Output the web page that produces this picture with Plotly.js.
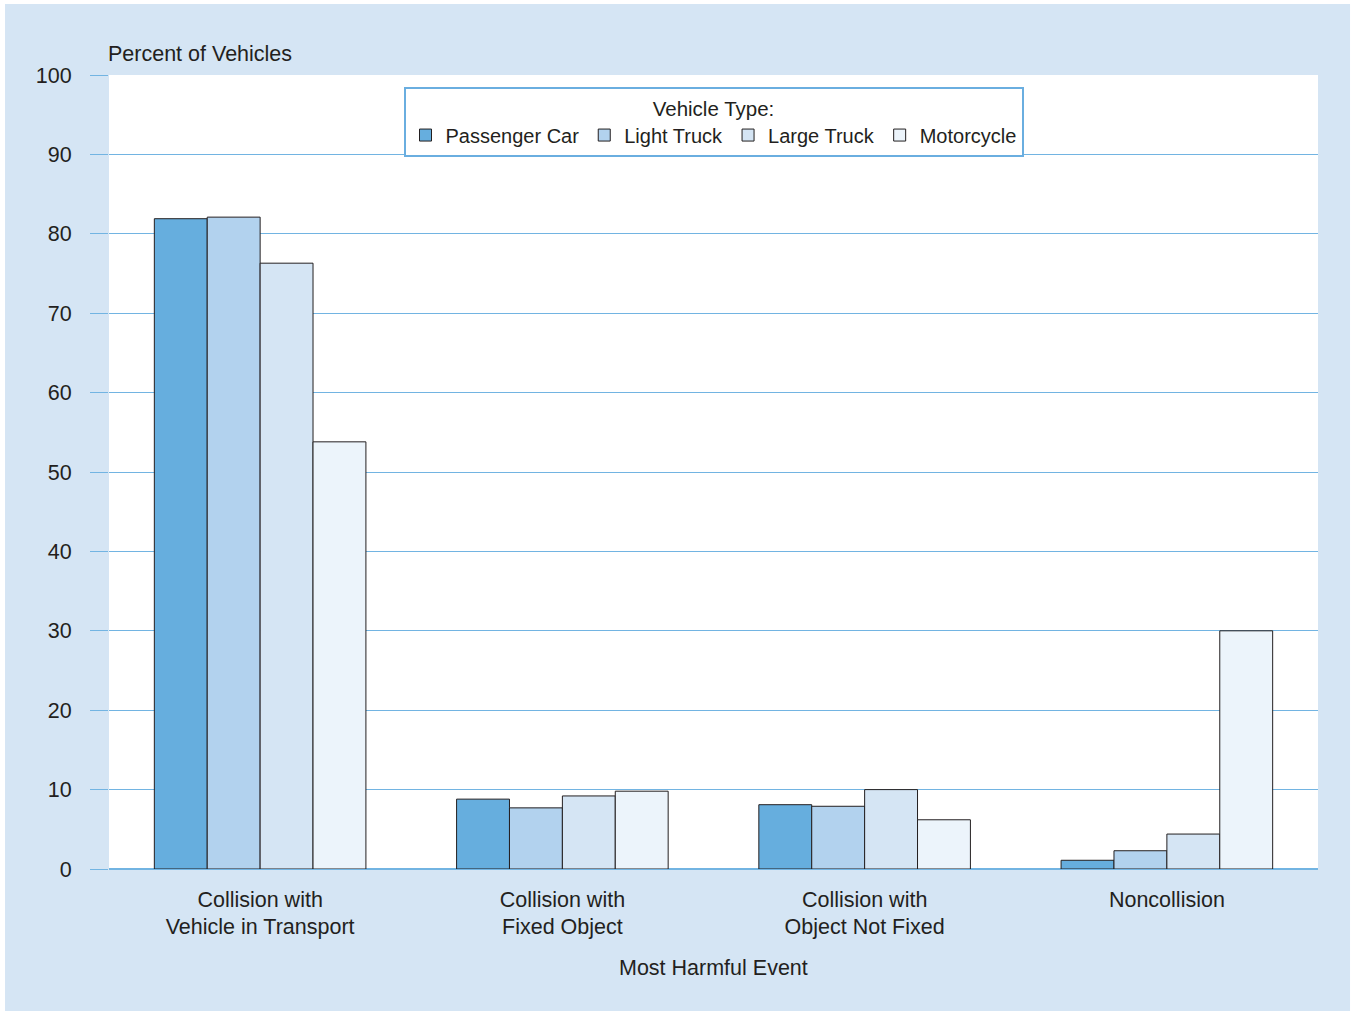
<!DOCTYPE html>
<html>
<head>
<meta charset="utf-8">
<script src="https://cdn.plot.ly/plotly-3.0.1.min.js"></script>
<style>html,body{margin:0;padding:0;background:#fff;}#chart{width:1351px;height:1012px;}</style>
</head>
<body>
<div id="chart"></div>
<script>
const categories = ["Collision with<br>Vehicle in Transport", "Collision with<br>Fixed Object", "Collision with<br>Object Not Fixed", "Noncollision"];
const seriesNames = ["Passenger Car", "Light Truck", "Large Truck", "Motorcycle"];
const passengerCar = [81.9, 8.8, 8.1, 1.1];
const lightTruck = [82.1, 7.7, 7.9, 2.3];
const largeTruck = [76.3, 9.2, 10.0, 4.4];
const motorcycle = [53.8, 9.8, 6.2, 30.0];
const yTicks = [0, 10, 20, 30, 40, 50, 60, 70, 80, 90, 100];

const colors = ["#66aede", "#b2d2ee", "#d5e5f4", "#ecf4fb"];
const values = [passengerCar, lightTruck, largeTruck, motorcycle];
const font = "Liberation Sans, Arial, sans-serif";
const textColor = "#231f20";
const gridColor = "#72b4e2";
const fs = 21.5;

const traces = values.map((v, i) => ({
  type: "bar",
  name: seriesNames[i],
  x: categories,
  y: v,
  marker: {color: colors[i], line: {color: "#231f20", width: 1}},
  hoverinfo: "y+name"
}));

const layout = {
  width: 1351, height: 1012,
  margin: {l: 109, r: 33, t: 75, b: 143},
  paper_bgcolor: "#ffffff",
  plot_bgcolor: "rgba(0,0,0,0)",
  barmode: "group",
  bargap: 0.3,
  bargroupgap: 0,
  font: {family: font, size: fs, color: textColor},
  xaxis: {
    showgrid: false, showline: false, zeroline: false, ticks: "",
    ticklabelstandoff: 15,
    tickfont: {family: font, size: fs, color: textColor},
    fixedrange: true
  },
  yaxis: {
    range: [0, 100], tickvals: yTicks, ticktext: yTicks.map(String),
    showgrid: true, gridcolor: gridColor, gridwidth: 1,
    zeroline: true, zerolinecolor: gridColor, zerolinewidth: 1.5,
    showline: false,
    ticks: "outside", ticklen: 18, tickcolor: gridColor, tickwidth: 1,
    ticklabelstandoff: 14,
    tickfont: {family: font, size: fs, color: textColor},
    fixedrange: true
  },
  legend: {
    orientation: "h",
    x: 0.5, xanchor: "center",
    y: 0.985, yanchor: "top",
    bgcolor: "#ffffff",
    bordercolor: "#6aaee0", borderwidth: 2,
    font: {family: font, size: 20, color: textColor},
    title: {text: "Vehicle Type:", side: "top center", font: {family: font, size: 20.5, color: textColor}},
    traceorder: "normal",
    itemclick: false, itemdoubleclick: false
  },
  shapes: [
    {type: "rect", xref: "paper", yref: "paper", x0: -0.086, x1: 1.0265, y0: -0.1788, y1: 1.0894,
     fillcolor: "#d5e5f4", line: {width: 0}, layer: "below"},
    {type: "rect", xref: "paper", yref: "paper", x0: 0, x1: 1, y0: 0, y1: 1,
     fillcolor: "#ffffff", line: {width: 0}, layer: "below"}
  ],
  annotations: [
    {text: "Percent of Vehicles", xref: "paper", yref: "paper", x: 0, y: 1.027,
     xanchor: "left", yanchor: "middle", showarrow: false, xshift: -3,
     font: {family: font, size: fs, color: textColor}},
    {text: "Most Harmful Event", xref: "paper", yref: "paper", x: 0.5, y: -0.125,
     xanchor: "center", yanchor: "middle", showarrow: false,
     font: {family: font, size: fs, color: textColor}}
  ],
  showlegend: true
};

Plotly.newPlot("chart", traces, layout, {displayModeBar: false});
</script>
</body>
</html>
